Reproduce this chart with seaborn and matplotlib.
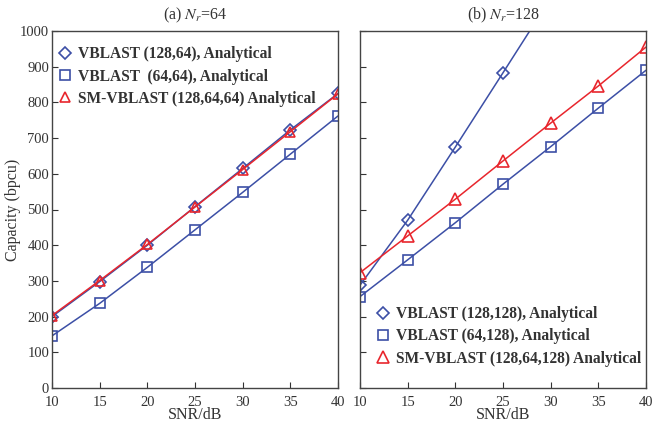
import numpy as np
import pandas as pd
import matplotlib
matplotlib.use("Agg")
import matplotlib.pyplot as plt
from matplotlib.lines import Line2D
import seaborn as sns

# SNR grid (dB)
snr = [10, 15, 20, 25, 30, 35, 40]

# Panel (a): N_r = 64
cap_a_vblast_128_64 = [200, 298, 400, 508, 615, 723, 825]
cap_a_vblast_64_64 = [146, 237, 338, 443, 548, 655, 762]
cap_a_sm_vblast = [203, 301, 402, 507, 612, 718, 824]

# Panel (b): N_r = 128
snr_b_diamond = [10, 15, 20, 25, 30]
cap_b_vblast_128_128 = [288, 470, 675, 883, 1092]
cap_b_vblast_64_128 = [256, 359, 463, 571, 676, 784, 890]
cap_b_sm_vblast = [323, 426, 529, 636, 742, 846, 955]

labels_a = ["VBLAST (128,64), Analytical",
            "VBLAST  (64,64), Analytical",
            "SM-VBLAST (128,64,64) Analytical"]
labels_b = ["VBLAST (128,128), Analytical",
            "VBLAST (64,128), Analytical",
            "SM-VBLAST (128,64,128) Analytical"]

titles = [r"(a) $N_r$=64", r"(b) $N_r$=128"]
yticks = [0, 100, 200, 300, 400, 500, 600, 700, 800, 900, 1000]
xticks = [10, 15, 20, 25, 30, 35, 40]

sns.set_theme(style="white")
plt.rcParams["font.family"] = ["Liberation Serif", "DejaVu Serif"]
plt.rcParams["mathtext.fontset"] = "stix"

BLUE = "#3c4fa6"
RED = "#e8262d"
TXT = "#333333"
FS = 11.5
LEG_FS = 11.2

fig = plt.figure(figsize=(6.59, 4.25), dpi=100)
ax_a = fig.add_axes([52 / 659, 37 / 425, 286 / 659, 357 / 425])
ax_b = fig.add_axes([360 / 659, 37 / 425, 286 / 659, 357 / 425])

series_a = [
    (snr, cap_a_vblast_128_64, BLUE, "D", 6.5),
    (snr, cap_a_vblast_64_64, BLUE, "s", 6.5),
    (snr, cap_a_sm_vblast, RED, "^", 7.5),
]
series_b = [
    (snr_b_diamond, cap_b_vblast_128_128, BLUE, "D", 6.5),
    (snr, cap_b_vblast_64_128, BLUE, "s", 6.5),
    (snr, cap_b_sm_vblast, RED, "^", 9),
]

# legend anchor (upper-left corner, axes fraction) for each panel
leg_anchor = {0: (0.018, 0.957), 1: (0.052, 0.229)}

for i, (ax, series, labels, title) in enumerate(
        [(ax_a, series_a, labels_a, titles[0]),
         (ax_b, series_b, labels_b, titles[1])]):
    for x, y, col, mk, ms in series:
        df = pd.DataFrame({"snr": x, "cap": y})
        sns.lineplot(data=df, x="snr", y="cap", ax=ax, color=col,
                     marker=mk, markersize=ms, markerfacecolor="none",
                     markeredgecolor=col, markeredgewidth=1.2,
                     linewidth=1.1)
    ax.set_xlim(10, 40)
    ax.set_ylim(0, 1000)
    ax.set_xticks(xticks)
    ax.set_yticks(yticks)
    ax.set_xlabel("SNR/dB", fontsize=FS, color=TXT, labelpad=-1)
    ax.set_title(title, fontsize=FS, color=TXT, pad=8)
    ax.tick_params(axis="both", direction="in", length=4, width=0.8,
                   colors=TXT, labelsize=10.5, top=False, right=False,
                   bottom=True, left=True)
    ax.tick_params(axis="x", pad=5.5)
    ax.tick_params(axis="y", pad=2)
    for sp in ax.spines.values():
        sp.set_color("#444444")
        sp.set_linewidth(1.0)

    handles = [Line2D([], [], linestyle="none", marker=mk, markersize=ms,
                      markerfacecolor="none", markeredgecolor=col,
                      markeredgewidth=1.2)
               for (_, _, col, mk, ms) in series]
    leg = ax.legend(handles, labels, loc="upper left",
                    bbox_to_anchor=leg_anchor[i], frameon=False,
                    borderpad=0, borderaxespad=0,
                    handletextpad=0.35, handlelength=1.0,
                    labelspacing=0.4,
                    prop={"size": LEG_FS, "weight": "bold"})
    for t in leg.get_texts():
        t.set_color(TXT)

ax_a.set_ylabel("Capacity (bpcu)", fontsize=FS, color=TXT)
ax_a.yaxis.set_label_coords(-31 / 286, 0.5)
ax_b.set_ylabel("")
ax_b.set_yticklabels([])

fig.savefig("out.png", dpi=100, facecolor="white")
